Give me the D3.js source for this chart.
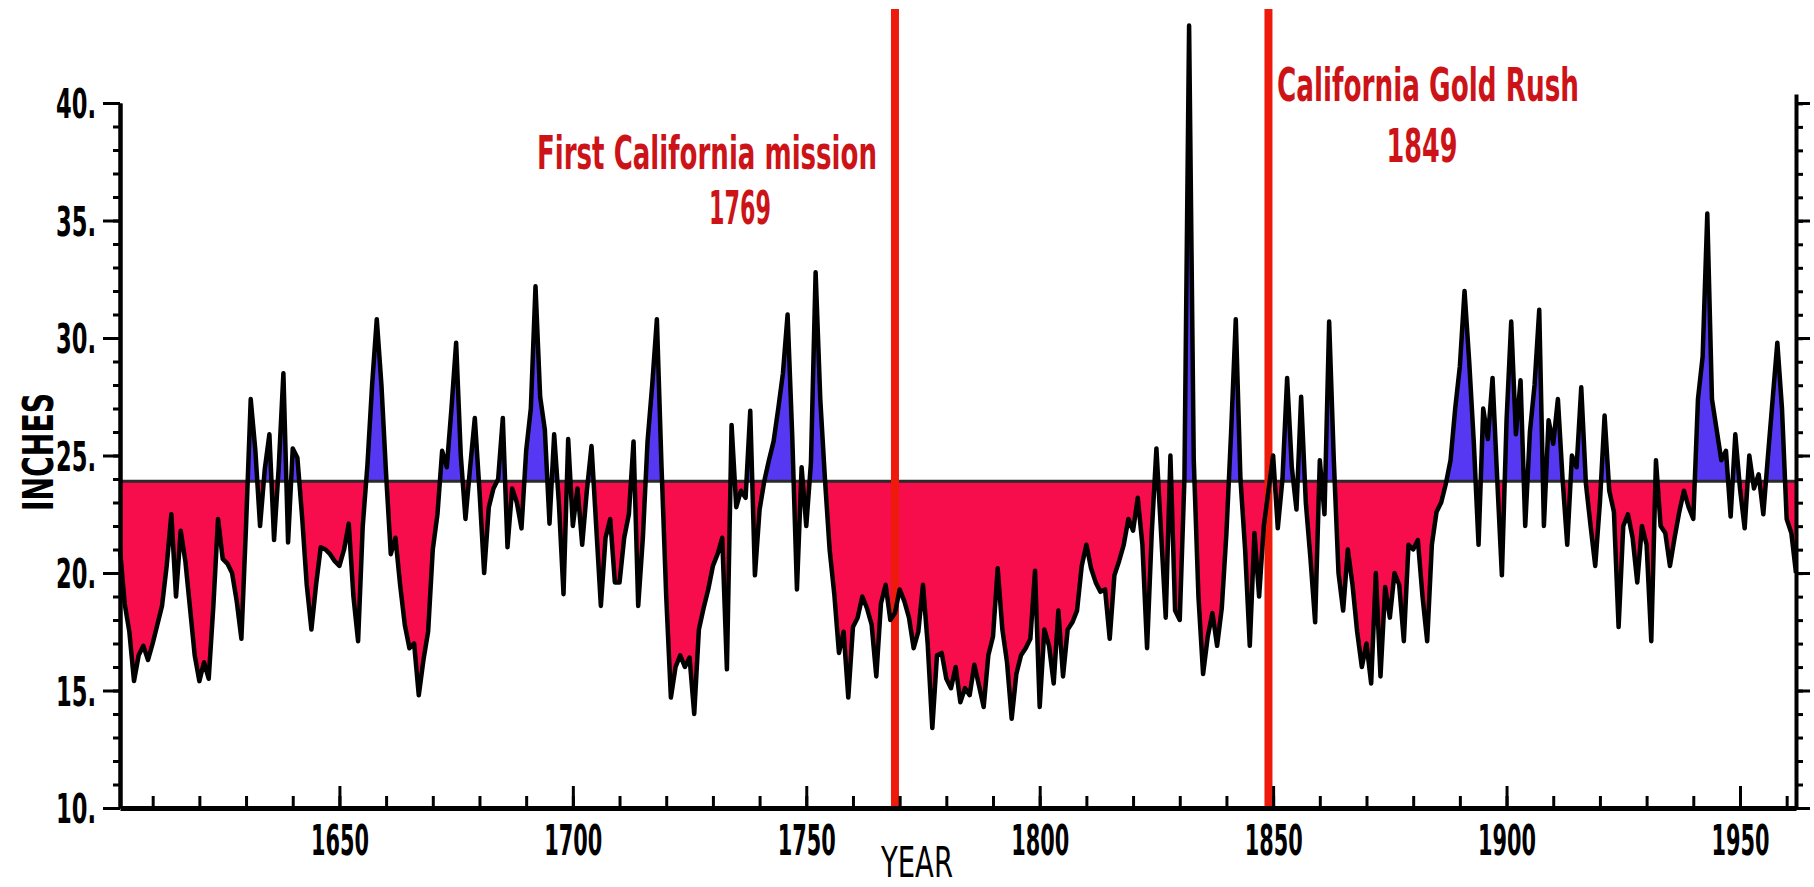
<!DOCTYPE html>
<html>
<head>
<meta charset="utf-8">
<script src="https://cdn.jsdelivr.net/npm/d3@7"></script>
<style>
  body { margin: 0; background: #fff; }
  svg { display: block; }
  text { font-family: "Liberation Sans Narrow", "DejaVu Sans Condensed", "Liberation Sans", sans-serif; }
</style>
</head>
<body>
<script>
// annual precipitation (inches), 1603..1962
const years = d3.range(1603, 1963);
const inches = [
  21.0,18.7,17.5,15.4,16.5,16.9,16.3,17.0,17.8,18.6,
  20.3,22.5,19.0,21.8,20.5,18.5,16.5,15.4,16.2,15.5,
  18.6,22.3,20.6,20.4,20.0,18.8,17.2,22.0,27.4,25.2,
  22.0,24.4,25.9,21.4,24.5,28.5,21.3,25.3,24.9,22.4,
  19.5,17.6,19.5,21.1,21.0,20.8,20.5,20.3,21.0,22.1,
  19.0,17.1,22.0,24.6,28.0,30.8,28.0,24.2,20.8,
  // 1662
  21.5,19.5,17.8,16.8,17.0,14.8,16.3,17.5,21.0,22.5,
  25.2,24.5,27.0,29.8,25.0,22.3,24.5,26.6,23.5,20.0,
  22.8,23.6,24.0,26.6,21.1,23.6,23.0,21.9,25.2,27.0,
  32.2,27.5,26.1,22.1,25.9,23.0,19.1,25.7,22.0,23.6,
  21.2,23.5,25.4,22.0,18.6,21.5,22.3,19.6,19.6,21.5,
  22.5,25.6,18.6,21.5,25.6,28.0,30.8,24.5,19.0,14.7,
  16.0,
  // 1723
  16.5,16.0,16.4,14.0,17.6,18.5,19.3,20.3,20.8,21.5,
  15.9,26.3,22.8,23.5,23.2,26.9,19.9,22.7,23.9,24.8,
  25.6,27.0,28.5,31.0,25.8,19.3,24.5,22.0,24.7,32.8,
  27.4,24.0,21.0,19.1,16.6,17.5,14.7,17.7,18.1,19.0,
  18.5,17.8,15.6,18.7,19.5,18.0,18.3,19.3,18.8,18.1,
  16.8,17.5,19.5,17.0,13.4,16.5,16.6,15.5,15.1,16.0,
  // 1783
  14.5,15.1,14.8,16.1,15.2,14.3,16.5,17.3,20.2,17.6,
  16.2,13.8,15.7,16.5,16.8,17.2,20.1,14.3,17.6,16.9,
  15.3,18.4,15.6,17.6,17.9,18.4,20.3,21.2,20.2,19.6,
  19.2,19.3,17.2,19.9,20.5,21.2,22.3,21.8,23.2,21.2,
  16.8,21.7,25.3,21.7,18.1,25.0,18.4,18.0,24.0,43.3,
  24.8,19.0,15.7,17.3,18.3,16.9,18.5,21.7,26.0,30.8,
  24.0,21.0,16.9,21.7,19.0,22.0,23.5,25.0,21.9,24.0,
  28.3,24.5,22.7,27.5,23.0,20.6,17.9,24.8,22.5,30.7,
  24.8,20.0,18.4,21.0,19.5,17.5,16.0,17.0,15.3,20.0,
  15.6,19.4,18.1,20.0,19.5,17.1,21.2,21.0,21.4,19.0,
  17.1,21.2,22.6,23.0,23.8,24.8,27.0,28.8,32.0,29.0,
  25.5,21.2,27.0,25.7,28.3,24.0,19.9,26.5,30.7,25.9,
  28.2,22.0,26.0,28.0,31.2,22.0,26.5,25.5,27.4,24.0,
  21.2,25.0,24.5,27.9,23.8,22.0,20.3,23.0,26.7,23.5,
  22.6,17.7,22.0,22.5,21.5,19.6,22.0,21.2,17.1,24.8,
  22.0,21.7,20.3,21.5,22.6,23.5,22.8,22.3,27.4,29.2,
  35.3,27.4,26.1,24.8,25.2,22.4,25.9,23.6,21.9,25.0,
  23.6,24.2,22.5,25.0,27.4,29.8,27.0,22.3,21.7,20.0
];
const baseline = 23.9;
const yMajor = [10, 15, 20, 25, 30, 35, 40];
const yMinor = d3.range(10, 41);
const xMajor = [1650, 1700, 1750, 1800, 1850, 1900, 1950];
const xMinor = d3.range(1610, 1961, 10);
const events = [
  { year: 1769, title: "First California mission", label: "1769" },
  { year: 1849, title: "California Gold Rush", label: "1849" }
];

const W = 1814, H = 887;
const x = d3.scaleLinear().domain([1603, 1962]).range([120, 1796]);
const y = d3.scaleLinear().domain([10, 40]).range([808, 103]);

const data = years.map((yr, i) => ({ year: yr, v: inches[i] }));

const svg = d3.select("body").append("svg")
    .attr("width", W)
    .attr("height", H);

// clip regions above / below the mean line
const defs = svg.append("defs");
defs.append("clipPath").attr("id", "above")
  .append("rect")
    .attr("x", x(1603)).attr("y", 0)
    .attr("width", x(1962) - x(1603)).attr("height", y(baseline));
defs.append("clipPath").attr("id", "below")
  .append("rect")
    .attr("x", x(1603)).attr("y", y(baseline))
    .attr("width", x(1962) - x(1603)).attr("height", H - y(baseline));

const area = d3.area()
    .x(d => x(d.year))
    .y0(y(baseline))
    .y1(d => y(d.v));

svg.append("path")
    .datum(data)
    .attr("clip-path", "url(#below)")
    .attr("fill", "#f70d4b")
    .attr("d", area);

svg.append("path")
    .datum(data)
    .attr("clip-path", "url(#above)")
    .attr("fill", "#5638f2")
    .attr("d", area);

// mean line
svg.append("line")
    .attr("x1", x(1603)).attr("x2", x(1962))
    .attr("y1", y(baseline)).attr("y2", y(baseline))
    .attr("stroke", "#2a2a2a")
    .attr("stroke-width", 3);

// event markers
svg.selectAll(".event")
  .data(events)
  .enter()
  .append("line")
    .attr("x1", d => x(d.year)).attr("x2", d => x(d.year))
    .attr("y1", 9).attr("y2", y(10))
    .attr("stroke", "#ee1a0c")
    .attr("stroke-width", 8);

// annual series
svg.append("path")
    .datum(data)
    .attr("fill", "none")
    .attr("stroke", "#000")
    .attr("stroke-width", 4.5)
    .attr("stroke-linejoin", "round")
    .attr("d", d3.line().x(d => x(d.year)).y(d => y(d.v)));

// axes
function styleAxis(g, width) {
  g.select(".domain").attr("stroke", "#000").attr("stroke-width", width);
  g.selectAll(".tick line").attr("stroke", "#000").attr("stroke-width", 3);
}
function noText(g) { g.selectAll("text").remove(); }

const left = svg.append("g").attr("transform", `translate(${x(1603)},0)`);
left.append("g")
    .call(d3.axisLeft(y).tickValues(yMinor).tickSize(7).tickSizeOuter(0))
    .call(noText)
    .call(g => styleAxis(g, 4));
left.append("g")
    .call(d3.axisLeft(y).tickValues(yMajor).tickSize(17).tickSizeOuter(0).tickPadding(7)
      .tickFormat(d => d + "."))
    .call(g => styleAxis(g, 4))
    .call(g => g.selectAll("text")
      .attr("fill", "#000")
      .attr("font-size", 41)
      .attr("font-weight", "bold")
      .attr("dy", "0.36em")
      .attr("textLength", 40)
      .attr("lengthAdjust", "spacingAndGlyphs"));

const right = svg.append("g").attr("transform", `translate(${x(1962)},0)`);
right.append("g")
    .call(d3.axisRight(y.copy().domain([10, 40.4]).range([808, 94])).tickValues(yMinor).tickSize(7).tickSizeOuter(0))
    .call(noText)
    .call(g => styleAxis(g, 4));
right.append("g")
    .call(d3.axisRight(y).tickValues(yMajor).tickSize(14).tickSizeOuter(0))
    .call(noText)
    .call(g => g.select(".domain").remove())
    .call(g => g.selectAll(".tick line").attr("stroke", "#000").attr("stroke-width", 3));

const bottom = svg.append("g").attr("transform", `translate(0,${y(10)})`);
bottom.append("g")
    .call(d3.axisBottom(x).tickValues(xMinor).tickSize(-12).tickSizeOuter(0))
    .call(noText)
    .call(g => styleAxis(g, 5));
bottom.append("g")
    .call(d3.axisBottom(x).tickValues(xMajor).tickSize(-22).tickSizeOuter(0).tickPadding(17)
      .tickFormat(d3.format("d")))
    .call(g => g.select(".domain").remove())
    .call(g => g.selectAll(".tick line").attr("stroke", "#000").attr("stroke-width", 3))
    .call(g => g.selectAll("text")
      .attr("fill", "#000")
      .attr("font-size", 42)
      .attr("font-weight", "bold")
      .attr("textLength", 58)
      .attr("lengthAdjust", "spacingAndGlyphs"));

// axis titles
svg.append("text")
    .attr("x", 917).attr("y", 877)
    .attr("text-anchor", "middle")
    .attr("font-size", 42)
    .attr("textLength", 72)
    .attr("lengthAdjust", "spacingAndGlyphs")
    .text("YEAR");

svg.append("text")
    .attr("transform", "translate(53,452) rotate(-90)")
    .attr("text-anchor", "middle")
    .attr("font-size", 42)
    .attr("font-weight", "bold")
    .attr("textLength", 118)
    .attr("lengthAdjust", "spacingAndGlyphs")
    .text("INCHES");

// event captions
const captions = [
  { text: events[0].title, cx: 707, y: 169, len: 340 },
  { text: events[0].label, cx: 740, y: 224, len: 62 },
  { text: events[1].title, cx: 1428, y: 101, len: 302 },
  { text: events[1].label, cx: 1422, y: 162, len: 71 }
];
svg.selectAll(".caption")
  .data(captions)
  .enter()
  .append("text")
    .attr("x", d => d.cx)
    .attr("y", d => d.y)
    .attr("text-anchor", "middle")
    .attr("font-size", 46)
    .attr("font-weight", "bold")
    .attr("fill", "#cc1418")
    .attr("textLength", d => d.len)
    .attr("lengthAdjust", "spacingAndGlyphs")
    .text(d => d.text);
</script>
</body>
</html>
